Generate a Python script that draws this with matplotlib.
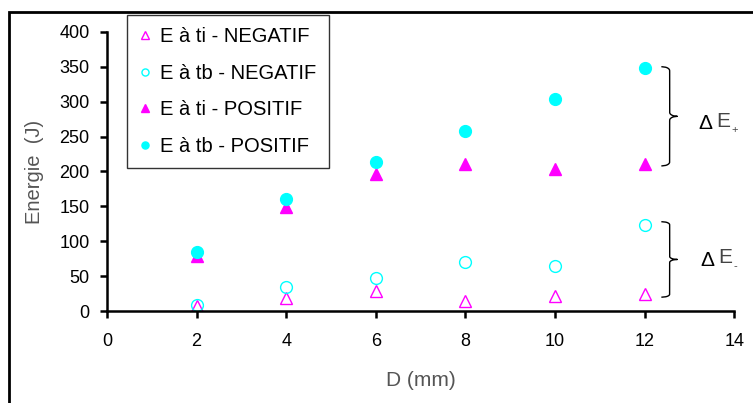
import numpy as np
import matplotlib.pyplot as plt
from matplotlib.patches import Rectangle

plt.rcParams['font.family'] = ['Liberation Sans', 'DejaVu Sans']

# D (mm)
d = [2, 4, 6, 8, 10, 12]
# energies (J)
e_ti_neg = [7, 19, 29, 14, 21, 24]
e_tb_neg = [9, 34, 48, 71, 64, 124]
e_ti_pos = [79, 149, 196, 210, 203, 210]
e_tb_pos = [85, 160, 213, 258, 304, 348]

magenta = '#ff00ff'
cyan = '#00ffff'


def curly(ax, x, y0, y1, w):
    # right-facing curly brace, spans x-w .. x+w in data units
    t = np.linspace(0, 1, 100)
    q = 0.08
    ym = (y0 + y1) / 2
    xs, ys = [], []
    for a, b in [(y1, ym), (ym, y0)]:
        yy = a + (b - a) * t
        s = np.abs((yy - ym) / (y1 - ym))  # 1 at the ends, 0 in the middle
        xx = x + w * (np.where(s > 1 - q, np.sqrt(np.clip(1 - ((s - (1 - q)) / q) ** 2, 0, 1)) - 1, 0)
                      + np.where(s < q, 1 - np.sqrt(np.clip(1 - ((q - s) / q) ** 2, 0, 1)), 0))
        xs.append(xx)
        ys.append(yy)
    ax.plot(np.concatenate(xs), np.concatenate(ys), color='black', lw=1, clip_on=False)


fig = plt.figure(figsize=(7.53, 4.03), dpi=100)
ax = fig.add_axes([0.142, 0.228, 0.833, 0.693])

ax.plot(d, e_ti_neg, linestyle='none', marker='^', markersize=8.5, markerfacecolor='none',
        markeredgecolor=magenta, markeredgewidth=1, label='E à ti - NEGATIF')
ax.plot(d, e_tb_neg, linestyle='none', marker='o', markersize=8.5, markerfacecolor='none',
        markeredgecolor=cyan, markeredgewidth=1, label='E à tb - NEGATIF')
ax.plot(d, e_ti_pos, linestyle='none', marker='^', markersize=8.5, color=magenta,
        label='E à ti - POSITIF')
ax.plot(d, e_tb_pos, linestyle='none', marker='o', markersize=8.5, color=cyan,
        label='E à tb - POSITIF')

ax.set_xlim(0, 14)
ax.set_ylim(0, 400)
ax.set_xticks(range(0, 15, 2))
ax.set_yticks(range(0, 401, 50))
for s in ['top', 'right']:
    ax.spines[s].set_visible(False)
for s in ['left', 'bottom']:
    ax.spines[s].set_linewidth(1.8)
ax.tick_params(direction='out', length=5, width=1.8, labelsize=13)
ax.tick_params(axis='x', pad=11)
ax.tick_params(axis='y', pad=7.5)
ax.set_xlabel('D (mm)', fontsize=15, color='#555555')
ax.set_ylabel('Energie  (J)', fontsize=14.5, color='#555555')
ax.xaxis.set_label_coords(0.5, -0.215)
ax.yaxis.set_label_coords(-0.1, 0.5)

curly(ax, 12.56, 208, 350, 0.17)
curly(ax, 12.56, 20, 128, 0.17)
ax.text(13.2, 268, 'Δ', fontsize=15, va='center', ha='left', clip_on=False)
ax.text(13.6, 272, 'E', fontsize=15, color='#444444', va='center', ha='left', clip_on=False)
ax.text(13.93, 260, '+', fontsize=8, color='#444444', va='center', ha='left', clip_on=False)
ax.text(13.25, 73, 'Δ', fontsize=15, va='center', ha='left', clip_on=False)
ax.text(13.65, 77, 'E', fontsize=15, color='#444444', va='center', ha='left', clip_on=False)
ax.text(13.98, 65, '-', fontsize=8, color='#444444', va='center', ha='left', clip_on=False)

leg = fig.legend(loc='upper left', bbox_to_anchor=(0.169, 0.963), borderaxespad=0,
                 fontsize=14.5, frameon=True, fancybox=False, handlelength=0.55,
                 handletextpad=0.5, labelspacing=0.88, borderpad=0.6, markerscale=0.6)
leg.get_frame().set_edgecolor('black')
leg.get_frame().set_linewidth(1)

fig.patches.append(Rectangle((0.012, -0.05), 1.1, 1.02, transform=fig.transFigure,
                             fill=False, edgecolor='black', linewidth=2))

fig.savefig('out.png', dpi=100)
